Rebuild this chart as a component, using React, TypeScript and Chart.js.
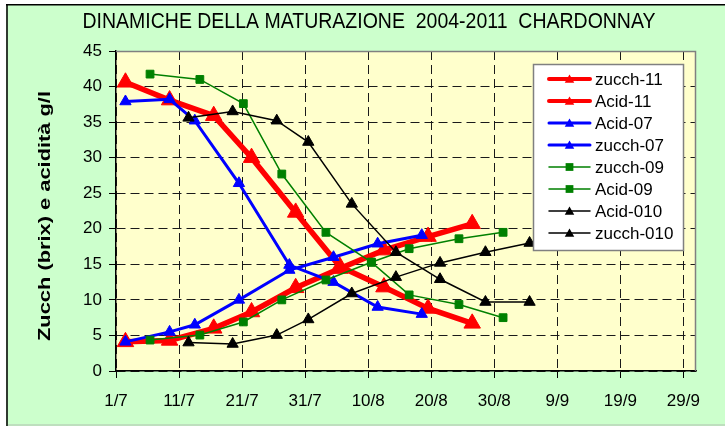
import { useEffect, useRef } from 'react';
import { Chart, registerables } from 'chart.js';

Chart.register(...registerables);

const titleText = 'DINAMICHE DELLA MATURAZIONE  2004-2011  CHARDONNAY';
const yAxisTitle = 'Zucch (brix) e acidità g/l';

// x axis: days after 1 July
const xTickValues = [0, 10, 20, 30, 40, 50, 60, 70, 80, 90];
const xTickLabels = ['1/7', '11/7', '21/7', '31/7', '10/8', '20/8', '30/8', '9/9', '19/9', '29/9'];

// 2011
const days11 = [1.5, 8.5, 15.5, 21.5, 28.5, 35.5, 42.5, 49.5, 56.5];
const zucch11 = [4.1, 4.3, 6.0, 8.3, 11.7, 14.4, 17.0, 18.9, 20.7];
const acid11 = [40.6, 38.1, 35.9, 30.0, 22.3, 14.7, 11.8, 8.8, 6.7];

// 2007
const days07 = [1.5, 8.5, 12.5, 19.5, 27.5, 34.5, 41.5, 48.5];
const acid07 = [37.9, 38.2, 35.2, 26.4, 14.9, 12.5, 9.0, 8.0];
const zucch07 = [4.1, 5.5, 6.5, 10.0, 14.2, 16.0, 17.9, 19.1];

// 2009
const days09 = [5.4, 13.3, 20.2, 26.3, 33.3, 40.5, 46.5, 54.4, 61.4];
const zucch09 = [4.35, 5.05, 6.9, 10.0, 12.8, 15.3, 17.2, 18.6, 19.5];
const acid09 = [41.75, 41.0, 37.6, 27.7, 19.5, 15.3, 10.7, 9.35, 7.5];

// 2010
const days010 = [11.5, 18.5, 25.5, 30.5, 37.4, 44.4, 51.4, 58.6, 65.6];
const acid010 = [35.6, 36.5, 35.2, 32.2, 23.5, 16.7, 12.9, 9.7, 9.7];
const zucch010 = [4.0, 3.8, 5.05, 7.25, 10.9, 13.2, 15.2, 16.7, 18.0];

const seriesLabels = ['zucch-11', 'Acid-11', 'Acid-07', 'zucch-07', 'zucch-09', 'Acid-09', 'Acid-010', 'zucch-010'];

const FONT = '"Liberation Sans", Arial, sans-serif';

function pts(xs: number[], ys: number[]) {
  return xs.map((x, i) => ({ x, y: ys[i] }));
}

function drawMarker(ctx: CanvasRenderingContext2D, style: string, x: number, y: number, r: number) {
  ctx.beginPath();
  if (style === 'triangle') {
    ctx.moveTo(x, y - r);
    ctx.lineTo(x + r * 0.866, y + r * 0.5);
    ctx.lineTo(x - r * 0.866, y + r * 0.5);
    ctx.closePath();
  } else {
    const s = r / Math.SQRT2;
    ctx.rect(x - s, y - s, 2 * s, 2 * s);
  }
  ctx.fill();
}

const decorPlugin = {
  id: 'decor',
  beforeDraw(chart: any) {
    const { ctx, width, height, chartArea: a } = chart;
    ctx.save();
    ctx.fillStyle = '#ffffff';
    ctx.fillRect(0, 0, width, height);
    ctx.fillStyle = '#CCFFCC';
    ctx.fillRect(7, 5, width - 7, height - 5);
    ctx.fillStyle = '#2f3a2f';
    ctx.fillRect(6, 4, 2, height - 4);
    ctx.fillStyle = '#000000';
    ctx.fillRect(6, 4, width - 6, 1.5);
    ctx.fillStyle = '#b0c0b0';
    ctx.fillRect(8, height - 1.5, width - 8, 1);
    ctx.fillStyle = '#FFFFCC';
    ctx.fillRect(a.left, a.top, a.right - a.left, a.bottom - a.top);
    ctx.fillStyle = '#000';
    ctx.textAlign = 'center';
    ctx.textBaseline = 'middle';
    // title
    ctx.save();
    ctx.font = '22px ' + FONT;
    const w = ctx.measureText(titleText).width;
    ctx.translate(369, 22);
    ctx.scale(573 / w, 1);
    ctx.fillText(titleText, 0, 0);
    ctx.restore();
    // y axis title
    ctx.save();
    ctx.font = 'bold 17px ' + FONT;
    const wy = ctx.measureText(yAxisTitle).width;
    ctx.translate(45, 216);
    ctx.rotate(-Math.PI / 2);
    ctx.scale(250 / wy, 1);
    ctx.fillText(yAxisTitle, 0, 0);
    ctx.restore();
    ctx.restore();
  },
  beforeDatasetsDraw(chart: any) {
    const { ctx, chartArea: a } = chart;
    ctx.save();
    ctx.strokeStyle = '#808080';
    ctx.lineWidth = 1.5;
    ctx.beginPath();
    ctx.moveTo(a.left, a.top + 0.5);
    ctx.lineTo(a.right - 0.5, a.top + 0.5);
    ctx.lineTo(a.right - 0.5, a.bottom);
    ctx.stroke();
    ctx.restore();
  },
  afterDatasetsDraw(chart: any) {
    const { ctx } = chart;
    const bx = 533, by = 64, bw = 150, bh = 186;
    ctx.save();
    ctx.fillStyle = '#ffffff';
    ctx.fillRect(bx, by, bw, bh);
    ctx.strokeStyle = '#808080';
    ctx.lineWidth = 1.5;
    ctx.strokeRect(bx + 0.5, by + 0.5, bw, bh);
    ctx.font = '17px ' + FONT;
    ctx.textBaseline = 'middle';
    ctx.textAlign = 'left';
    chart.data.datasets.forEach((ds: any, i: number) => {
      const y = by + 15 + i * 22;
      ctx.strokeStyle = ds.borderColor;
      ctx.lineWidth = Math.min(ds.borderWidth, 4);
      ctx.lineCap = 'round';
      ctx.beginPath();
      ctx.moveTo(549, y);
      ctx.lineTo(590, y);
      ctx.stroke();
      ctx.fillStyle = ds.borderColor;
      drawMarker(ctx, ds.pointStyle, 569.5, y + (ds.pointStyle === 'triangle' ? 1 : 0), ds.pointStyle === 'triangle' ? 5.5 : 5.5);
      ctx.fillStyle = '#000';
      ctx.fillText(ds.label, 595, y + 1);
    });
    ctx.restore();
  },
};

export default function App() {
  const ref = useRef<HTMLCanvasElement | null>(null);
  useEffect(() => {
    if (!ref.current) return;
    const mk = (label: string, xs: number[], ys: number[], color: string, bw: number, style: string, r: number, i: number) => ({
      label,
      data: pts(xs, ys),
      borderColor: color,
      backgroundColor: color,
      pointBackgroundColor: color,
      pointBorderColor: color,
      borderWidth: bw,
      pointStyle: style,
      pointRadius: r,
      pointBorderWidth: 1,
      tension: 0,
      order: 10 - i,
    });
    const chart = new Chart(ref.current, {
      type: 'line',
      data: {
        datasets: [
          mk(seriesLabels[0], days11, zucch11, '#FF0000', 5.5, 'triangle', 9.5, 0),
          mk(seriesLabels[1], days11, acid11, '#FF0000', 5.5, 'triangle', 9.5, 1),
          mk(seriesLabels[2], days07, acid07, '#0000FF', 3, 'triangle', 6.5, 2),
          mk(seriesLabels[3], days07, zucch07, '#0000FF', 3, 'triangle', 6.5, 3),
          mk(seriesLabels[4], days09, zucch09, '#008000', 1.5, 'rect', 5.5, 4),
          mk(seriesLabels[5], days09, acid09, '#008000', 1.5, 'rect', 5.5, 5),
          mk(seriesLabels[6], days010, acid010, '#000000', 1.5, 'triangle', 6.5, 6),
          mk(seriesLabels[7], days010, zucch010, '#000000', 1.5, 'triangle', 6.5, 7),
        ],
      },
      options: {
        animation: false,
        responsive: false,
        events: [],
        layout: { padding: { left: 25, top: 51, right: 29, bottom: 15 } },
        plugins: { legend: { display: false }, tooltip: { enabled: false }, title: { display: false } },
        scales: {
          x: {
            type: 'linear',
            min: 0,
            max: 92,
            afterBuildTicks: (s: any) => {
              s.ticks = xTickValues.map((v) => ({ value: v }));
            },
            afterFit: (s: any) => {
              s.height = 40;
            },
            ticks: {
              autoSkip: false,
              maxRotation: 0,
              padding: 13,
              color: '#000',
              font: { size: 17, family: FONT },
              callback: (v: any) => xTickLabels[xTickValues.indexOf(Number(v))] ?? '',
            },
            grid: {
              color: '#1a1a1a',
              lineWidth: 1,
              tickLength: 7,
              tickColor: '#000',
              tickBorderDash: [],
              tickWidth: 1,
            },
            border: { display: true, color: '#000', width: 1.5, dash: [9, 5] },
          },
          y: {
            type: 'linear',
            min: 0,
            max: 45,
            afterFit: (s: any) => {
              s.width = 91;
            },
            ticks: {
              stepSize: 5,
              padding: 7,
              color: '#000',
              font: { size: 17, family: FONT },
            },
            grid: {
              color: '#1a1a1a',
              lineWidth: 1,
              tickLength: 7,
              tickColor: '#000',
              tickBorderDash: [],
              tickWidth: 1,
            },
            border: { display: true, color: '#000', width: 1.5, dash: [9, 5] },
          },
        },
      } as any,
      plugins: [decorPlugin],
    });
    return () => chart.destroy();
  }, []);
  return (
    <div style={{ position: 'absolute', left: 0, top: 0, width: 725, height: 426 }}>
      <canvas ref={ref} width={725} height={426} />
    </div>
  );
}
